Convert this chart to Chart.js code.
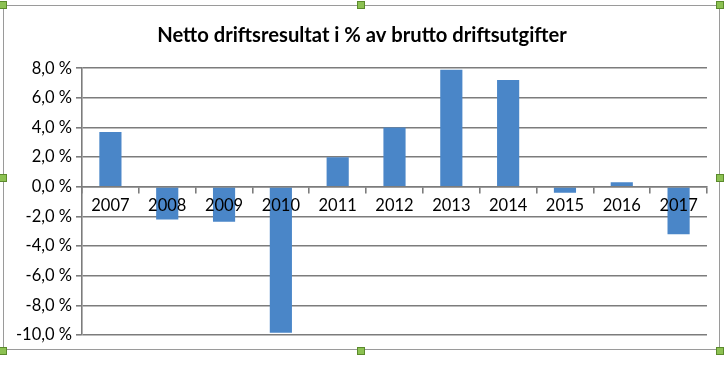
<!DOCTYPE html>
<html>
<head>
<meta charset="utf-8">
<script src="https://cdn.jsdelivr.net/npm/chart.js@4/dist/chart.umd.min.js"></script>
<style>
    html, body { margin: 0; padding: 0; background: #fff; }
    #wrap { position: relative; width: 724px; height: 365px; overflow: hidden; }
    #frame { position: absolute; left: 3px; top: 5px; width: 717px; height: 345px; border: 1px solid #9a9a9a; box-sizing: border-box; }
    .handle { position: absolute; width: 6px; height: 6px; background: #8cc152; border: 1px solid #5b8a2c; }
    canvas { position: absolute; left: 0; top: 0; }
</style>
</head>
<body>
<div id="wrap">
    <div id="frame"></div>
    <canvas id="chart" width="724" height="365"></canvas>
</div>
<script>
// ==================== DATA ====================
const YEARS = ['2007', '2008', '2009', '2010', '2011', '2012', '2013', '2014', '2015', '2016', '2017'];
const RESULT_PCT = [3.7, -2.2, -2.35, -9.85, 2.0, 4.0, 7.9, 7.2, -0.4, 0.3, -3.2];
const TITLE = 'Netto driftsresultat i % av brutto driftsutgifter';
const Y_MIN = -10;
const Y_MAX = 8;
const Y_STEP = 2;

// ==================== THEME ====================
const THEME = {
    bar: '#4a86c8',
    grid: '#7c7c7c',
    text: '#000000',
    font: "Lato, 'Open Sans', sans-serif"
};

// selection handles around the chart frame
const HANDLES = [[3, 5], [361, 5], [720, 5], [3, 178], [720, 178], [3, 351], [361, 351], [720, 351]];
const wrap = document.getElementById('wrap');
HANDLES.forEach(([x, y]) => {
    const h = document.createElement('div');
    h.className = 'handle';
    h.style.left = (x - 4) + 'px';
    h.style.top = (y - 4) + 'px';
    wrap.appendChild(h);
});

const fmtPct = v => v.toFixed(1).replace('.', ',') + ' %';

const ctx = document.getElementById('chart').getContext('2d');
new Chart(ctx, {
    type: 'bar',
    data: {
        labels: YEARS,
        datasets: [{
            data: RESULT_PCT,
            backgroundColor: THEME.bar,
            borderWidth: 0,
            categoryPercentage: 1,
            barPercentage: 0.39
        }]
    },
    options: {
        responsive: false,
        animation: false,
        devicePixelRatio: 1,
        // symmetric side padding keeps the title centred on the frame
        layout: { padding: { top: 9, left: 17, right: 17, bottom: 30 } },
        plugins: {
            legend: { display: false },
            tooltip: { enabled: false },
            title: {
                display: true,
                text: TITLE,
                color: THEME.text,
                font: { family: THEME.font, size: 20.2, weight: 'bold' },
                padding: { top: 14, bottom: 21 }
            }
        },
        scales: {
            x: {
                position: { y: 0 },
                offset: true,
                grid: { display: true, drawOnChartArea: false, drawTicks: true, tickLength: 6, color: THEME.grid, lineWidth: 1.6 },
                border: { display: true, color: THEME.grid, width: 1.6, z: 1 },
                ticks: { z: 1, color: THEME.text, padding: 3, maxRotation: 0, font: { family: THEME.font, size: 16.5 } }
            },
            y: {
                min: Y_MIN,
                max: Y_MAX,
                afterFit: scale => { scale.width = 65; },
                grid: { color: THEME.grid, lineWidth: 1.6, drawTicks: true, tickLength: 6 },
                border: { display: true, color: THEME.grid, width: 1.6 },
                ticks: {
                    stepSize: Y_STEP,
                    padding: 4,
                    color: THEME.text,
                    font: { family: THEME.font, size: 16.5 },
                    callback: v => fmtPct(v)
                }
            }
        }
    }
});
</script>
</body>
</html>
